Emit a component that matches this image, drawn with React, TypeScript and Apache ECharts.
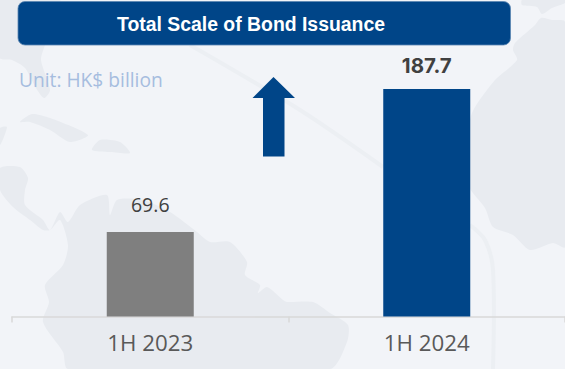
import React, { useEffect, useRef } from "react";
import * as echarts from "echarts";

const categories = ["1H 2023", "1H 2024"];
const seriesValues = [69.6, 187.7];
const barColors = ["#7F7F7F", "#004588"];

const pageBg = "#F2F4F8";
const landColor = "#E8EBF0";

// Faint world-map shapes behind the plot
const landShapes: number[][][] = [
  [[0,0],[60,0],[45,45],[41,60],[50,90],[44,98],[36,88],[25,68],[12,60],[0,58]],
  [[20,122],[32,114],[50,118],[88,135],[70,142],[50,130],[30,122]],
  [[92,150],[100,140],[120,142],[130,153],[110,152]],
  [[0,128],[7,127],[0,145]],
  [[0,168],[20,167],[28,178],[25,190],[25,205],[43,220],[50,230],[60,212],[68,222],[80,205],[107,195],[110,215],[117,200],[143,200],[170,212],[197,232],[210,242],[230,242],[247,262],[245,275],[260,285],[258,293],[267,287],[283,300],[287,302],[313,302],[330,313],[348,325],[347,342],[330,369],[68,369],[63,352],[43,322],[49,302],[45,285],[63,265],[68,245],[60,220],[50,230],[43,230],[30,220],[13,207],[0,190]],
  [[565,22],[552,20],[541,18],[535,25],[515,43],[513,50],[517,60],[495,80],[472,113],[466,150],[468,185],[485,208],[493,227],[513,235],[530,250],[553,243],[565,247]],
  [[522,0],[565,0],[565,3],[552,8],[542,14],[537,7],[522,5]],
];
const gridLines: number[][][] = [
  [[190,45],[300,110],[383,167]],
  [[470,225],[485,240],[493,270],[493,369]],
];

export default function App() {
  const ref = useRef<HTMLDivElement>(null);
  useEffect(() => {
    const chart = echarts.init(ref.current!, undefined, { renderer: "svg" });
    chart.setOption({
      animation: false,
      backgroundColor: pageBg,
      grid: { left: 12, right: 0, top: 74, bottom: 52.5 },
      xAxis: {
        type: "category",
        data: categories,
        axisLine: { lineStyle: { color: "#D9D9D9", width: 1.5 } },
        axisTick: { show: true, length: 6, lineStyle: { color: "#D9D9D9", width: 1.5 } },
        axisLabel: { color: "#595959", fontSize: 22.3, fontFamily: "Open Sans", margin: 15 },
      },
      yAxis: { type: "value", min: 0, max: 200, show: false },
      series: [
        {
          type: "bar",
          barWidth: 87,
          data: seriesValues.map((value, i) => ({
            value,
            itemStyle: { color: barColors[i] },
            label: {
              show: true,
              position: "top",
              distance: i === 1 ? 13 : 18,
              color: "#404040",
              fontFamily: i === 1 ? "Inter" : "Open Sans",
              fontSize: i === 1 ? 20.5 : 19.5,
              fontWeight: i === 1 ? "bold" : "normal",
            },
          })),
        },
      ],
      graphic: [
        ...landShapes.map((points) => ({
          type: "polygon",
          z: -10,
          shape: { points, smooth: 0.25 },
          style: { fill: landColor },
        })),
        ...gridLines.map((points) => ({
          type: "polyline",
          z: -10,
          shape: { points, smooth: 0.3 },
          style: { stroke: "#ECEFF3", lineWidth: 4, fill: "none" },
        })),
        {
          type: "rect",
          z: 10,
          shape: { x: 18, y: 1.5, width: 492.5, height: 43.5, r: 7 },
          style: { fill: "#004588", stroke: "#5B86B3", lineWidth: 0.8 },
        },
        {
          type: "text",
          z: 11,
          x: 251,
          y: 24,
          style: {
            text: "Total Scale of Bond Issuance",
            fill: "#FFFFFF",
            font: 'bold 19.4px "Liberation Sans"',
            align: "center",
            verticalAlign: "middle",
          },
        },
        {
          type: "text",
          z: 11,
          x: 19,
          y: 79,
          style: {
            text: "Unit: HK$ billion",
            fill: "#A6BDDF",
            font: '19.2px "Open Sans"',
            align: "left",
            verticalAlign: "middle",
          },
        },
        {
          type: "polygon",
          z: 10,
          shape: {
            points: [[273.5,77],[295,98],[284.5,98],[284.5,156.5],[263,156.5],[263,98],[252.5,98]],
          },
          style: { fill: "#004588" },
        },
      ],
    });
    return () => chart.dispose();
  }, []);
  return <div ref={ref} style={{ position: "fixed", left: 0, top: 0, width: 565, height: 369 }} />;
}
